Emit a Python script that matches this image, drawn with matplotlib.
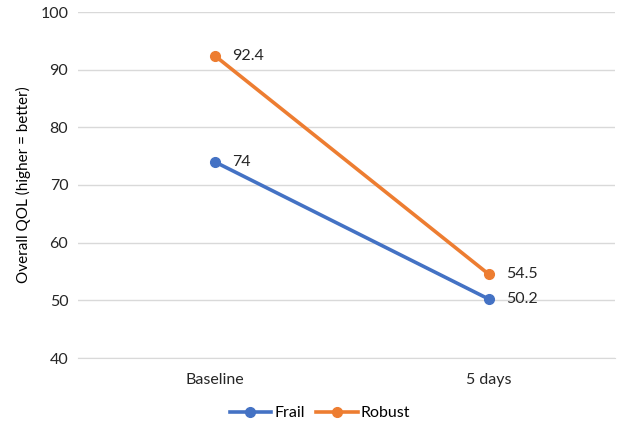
import matplotlib
matplotlib.use("Agg")
import matplotlib.pyplot as plt

categories = ["Baseline", "5 days"]
frail = [74, 50.2]
robust = [92.4, 54.5]
frail_labels = ["74", "50.2"]
robust_labels = ["92.4", "54.5"]
yticks = [40, 50, 60, 70, 80, 90, 100]

plt.rcParams['font.family'] = ['Lato', 'DejaVu Sans']

fig = plt.figure(figsize=(6.17, 4.29), dpi=100)
ax = fig.add_axes([78/617, 1-358/429, (615-78)/617, (358-12)/429])

blue = "#4472C4"
orange = "#ED7D31"
x = list(range(len(categories)))
ax.plot(x, frail, color=blue, lw=2.6, marker="o", ms=7, label="Frail", zorder=3)
ax.plot(x, robust, color=orange, lw=2.6, marker="o", ms=7, label="Robust", zorder=3)

fs = 11.5
for xi, v, t in zip(x, frail, frail_labels):
    ax.annotate(t, (xi, v), xytext=(12, 0), textcoords="offset points",
                va="center", ha="left", fontsize=fs, color="#262626")
for xi, v, t in zip(x, robust, robust_labels):
    ax.annotate(t, (xi, v), xytext=(12, 0), textcoords="offset points",
                va="center", ha="left", fontsize=fs, color="#262626")

ax.set_xlim(-0.5, 1.46)
ax.set_ylim(40, 100)
ax.set_yticks(yticks)
ax.set_xticks(x)
ax.set_xticklabels(categories)
ax.grid(axis="y", color="#D9D9D9", lw=1)
ax.set_axisbelow(True)
for s in ["top", "right", "left"]:
    ax.spines[s].set_visible(False)
ax.spines["bottom"].set_color("#D9D9D9")
ax.tick_params(axis="both", length=0, labelsize=fs, colors="#262626")
ax.tick_params(axis="x", pad=11)
ax.tick_params(axis="y", pad=7)
ax.set_ylabel("Overall QOL (higher = better)", fontsize=11, color="#000000", labelpad=7)

ax.legend(loc="center", bbox_to_anchor=(320/617, 1-413/429), bbox_transform=fig.transFigure,
          ncol=2, frameon=False, fontsize=fs, handlelength=2.6, columnspacing=0.7,
          handletextpad=0.2)

fig.savefig("out.png", dpi=100)
